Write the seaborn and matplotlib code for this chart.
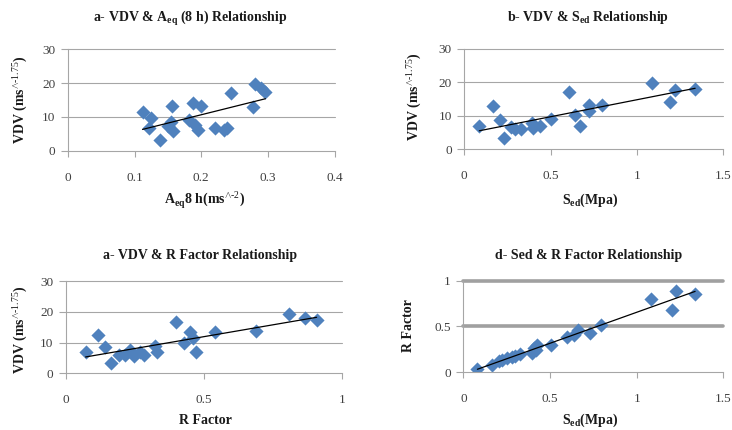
import numpy as np
import pandas as pd
import seaborn as sns
from matplotlib import pyplot as plt

# ---------------------------------------------------------------
# values
# ---------------------------------------------------------------
aeq_a = [0.112, 0.124, 0.122, 0.138, 0.156, 0.150, 0.158, 0.155, 0.187, 0.200, 0.182,
         0.190, 0.195, 0.220, 0.234, 0.239, 0.245, 0.277, 0.281, 0.289, 0.296]
vdv_a = [11.5, 9.8, 6.8, 3.2, 13.2, 7.2, 5.8, 8.5, 14.0, 13.2, 9.0,
         7.5, 6.2, 6.8, 6.0, 6.8, 17.0, 12.8, 19.7, 18.5, 17.5]

sed_b = [0.087, 0.165, 0.205, 0.227, 0.270, 0.295, 0.330, 0.391, 0.397, 0.436, 0.500,
         0.605, 0.643, 0.669, 0.723, 0.721, 0.795, 1.085, 1.192, 1.221, 1.337]
vdv_b = [6.8, 13.0, 8.6, 3.4, 6.5, 6.0, 6.0, 7.8, 6.4, 7.0, 9.0,
         17.0, 10.2, 7.0, 13.2, 11.4, 13.2, 19.8, 14.0, 17.8, 18.0]

r_c = [0.072, 0.116, 0.141, 0.164, 0.192, 0.216, 0.234, 0.248, 0.270, 0.282, 0.324,
       0.332, 0.399, 0.428, 0.450, 0.462, 0.471, 0.540, 0.689, 0.809, 0.867, 0.909]
vdv_c = [6.8, 12.6, 8.5, 3.2, 6.1, 6.0, 7.6, 5.7, 6.8, 5.8, 8.9,
         7.1, 16.8, 9.8, 13.4, 11.4, 7.1, 13.4, 13.7, 19.4, 18.1, 17.4]

sed_d = [0.081, 0.165, 0.203, 0.223, 0.252, 0.281, 0.300, 0.326, 0.397, 0.407, 0.417,
         0.426, 0.504, 0.600, 0.640, 0.663, 0.733, 0.795, 1.085, 1.202, 1.225, 1.337]
r_d = [0.040, 0.075, 0.120, 0.135, 0.157, 0.170, 0.180, 0.200, 0.210, 0.267, 0.240,
       0.300, 0.300, 0.385, 0.410, 0.465, 0.430, 0.520, 0.795, 0.680, 0.892, 0.852]

vdv_ticks = [0, 10, 20, 30]
r_ticks = [0, 0.5, 1]

BLUE = '#4F81BD'
GRID = '#A6A6A6'
TXT = '#404040'

sns.set_style('white')
plt.rcParams['font.family'] = ['Liberation Serif', 'DejaVu Serif']
plt.rcParams['mathtext.fontset'] = 'custom'
plt.rcParams['mathtext.rm'] = 'Liberation Serif'
plt.rcParams['mathtext.bf'] = 'Liberation Serif:bold'

fig = plt.figure(figsize=(7.32, 4.30), dpi=100)

VDV_LABEL = r'VDV (ms$^{\wedge\text{-1.75}}$)'
SED_LABEL = r'S$_{\mathbf{ed}}$(Mpa)'


def draw_panel(rect, x, y, xticks, yticks, title, title_xy, xlabel, xlabel_xy,
               ylabel, ylabel_xy, grid_lw=0.8, grid_color=GRID):
    ax = fig.add_axes(rect)
    df = pd.DataFrame({'x': x, 'y': y})
    sns.regplot(data=df, x='x', y='y', ax=ax, ci=None, marker='D',
                scatter_kws={'s': 52, 'color': BLUE, 'linewidths': 0, 'alpha': 1},
                line_kws={'color': 'black', 'linewidth': 0.9})
    ax.set_xlim(xticks[0], xticks[-1])
    ax.set_ylim(yticks[0], yticks[-1])
    ax.set_xticks(xticks)
    ax.set_yticks(yticks)
    ax.set_xticklabels([f'{t:g}' for t in xticks])
    ax.set_yticklabels([f'{t:g}' for t in yticks])
    for t in yticks[1:]:
        ax.axhline(t, color=grid_color, linewidth=grid_lw, zorder=0, clip_on=False)
    for side in ['top', 'right']:
        ax.spines[side].set_visible(False)
    for side in ['left', 'bottom']:
        ax.spines[side].set_color(GRID)
        ax.spines[side].set_linewidth(0.8)
    ax.tick_params(axis='x', direction='out', length=4, width=0.8, color=GRID,
                   pad=11, labelsize=9.5, labelcolor=TXT, bottom=True)
    ax.tick_params(axis='y', direction='out', length=5, width=0.8, color=GRID,
                   pad=4, labelsize=9.5, labelcolor=TXT, left=True)
    ax.set_xlabel('')
    ax.set_ylabel('')
    fig.text(title_xy[0] / 732, 1 - title_xy[1] / 430, title, ha='center', va='center',
             fontsize=10, fontweight='bold', color='#1a1a1a')
    fig.text(xlabel_xy[0] / 732, 1 - xlabel_xy[1] / 430, xlabel, ha='center', va='center',
             fontsize=10, fontweight='bold', color='#1a1a1a')
    fig.text(ylabel_xy[0] / 732, 1 - ylabel_xy[1] / 430, ylabel, ha='center', va='center',
             rotation=90, fontsize=10, fontweight='bold', color='#1a1a1a')
    return ax


draw_panel([0.0925, 0.6495, 0.365, 0.2358], aeq_a, vdv_a, [0, 0.1, 0.2, 0.3, 0.4], vdv_ticks,
           r'a- VDV & A$_{\mathbf{eq}}$ (8 h) Relationship', (190, 18),
           r'A$_{\mathbf{eq}}$8 h(ms$^{\wedge\text{-2}}$)', (205, 200),
           VDV_LABEL, (20, 100))

draw_panel([0.6343, 0.6528, 0.3538, 0.234], sed_b, vdv_b, [0, 0.5, 1, 1.5], vdv_ticks,
           r'b- VDV & S$_{\mathbf{ed}}$ Relationship', (588, 18),
           SED_LABEL, (590, 200),
           VDV_LABEL, (414, 97))

draw_panel([0.0898, 0.1319, 0.377, 0.214], r_c, vdv_c, [0, 0.5, 1], vdv_ticks,
           'a- VDV & R Factor Relationship', (200, 256),
           'R Factor', (205, 420),
           VDV_LABEL, (20, 330))

draw_panel([0.633, 0.1342, 0.3552, 0.213], sed_d, r_d, [0, 0.5, 1, 1.5], r_ticks,
           'd- Sed & R Factor Relationship', (589, 256),
           SED_LABEL, (590, 420),
           'R Factor', (409, 326), grid_lw=2.6, grid_color='#A0A0A0')

plt.savefig('out.png', dpi=100)
